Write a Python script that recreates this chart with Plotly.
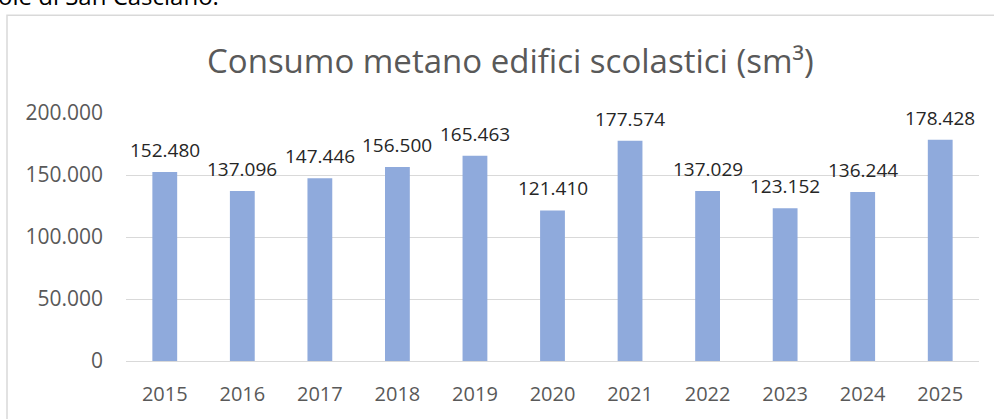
import plotly.graph_objects as go

years = ["2015", "2016", "2017", "2018", "2019", "2020", "2021", "2022", "2023", "2024", "2025"]
consumo = [152480, 137096, 147446, 156500, 165463, 121410, 177574, 137029, 123152, 136244, 178428]
labels = ["152.480", "137.096", "147.446", "156.500", "165.463", "121.410", "177.574", "137.029", "123.152", "136.244", "178.428"]
y_ticks = [0, 50000, 100000, 150000, 200000]
y_tick_labels = ["0", "50.000", "100.000", "150.000", "200.000"]

FONT = "Open Sans"
W, H = 994, 419
L, R, T, B = 126, 15, 113, 55
pw, ph = W - L - R, H - T - B

def px_x(x):
    return (x - L) / pw

def px_y(y):
    return (H - B - y) / ph

fig = go.Figure()
fig.add_trace(go.Bar(
    x=years, y=consumo,
    marker=dict(color="#8faadc", line=dict(width=0)),
    hoverinfo="x+y",
))

for i, (v, lab) in enumerate(zip(consumo, labels)):
    fig.add_annotation(x=i, y=v, text=lab, showarrow=False, yanchor="bottom",
                       yshift=7, font=dict(family=FONT, size=19, color="#262626"))

# title
fig.add_annotation(xref="paper", yref="paper", x=px_x(510), y=px_y(60), text="Consumo metano edifici scolastici (sm³)",
                   showarrow=False, xanchor="center", yanchor="middle",
                   font=dict(family=FONT, size=33, color="#595959"))
# clipped text from the document above
fig.add_annotation(xref="paper", yref="paper", x=px_x(-4), y=px_y(13), text="ole di San Casciano.",
                   showarrow=False, xanchor="left", yanchor="bottom",
                   font=dict(family=FONT, size=24, color="#000000"))

# chart border
fig.add_shape(type="rect", xref="paper", yref="paper", x0=px_x(7), x1=px_x(1010), y0=px_y(500), y1=px_y(14),
              line=dict(color="#d9d9d9", width=1.5), fillcolor="rgba(0,0,0,0)", layer="below")

fig.update_layout(
    width=W, height=H,
    margin=dict(l=L, r=R, t=T, b=B, pad=0),
    paper_bgcolor="white", plot_bgcolor="white",
    bargap=0.68,
    showlegend=False,
    font=dict(family=FONT),
    xaxis=dict(type="category", range=[-0.5, len(years) - 0.5], showgrid=False, showline=True,
               linecolor="#d9d9d9", linewidth=1, ticks="",
               tickfont=dict(family=FONT, size=20, color="#595959"), ticklabelstandoff=15),
    yaxis=dict(range=[0, 200000], tickvals=y_ticks, ticktext=y_tick_labels, showgrid=True,
               gridcolor="#d9d9d9", gridwidth=1, zeroline=False, showline=False, ticks="",
               tickfont=dict(family=FONT, size=21, color="#595959"), ticklabelstandoff=22),
)

fig.write_html("out.html", config={"displayModeBar": False},
               post_script="document.body.style.margin='0';document.body.style.overflow='hidden';")
